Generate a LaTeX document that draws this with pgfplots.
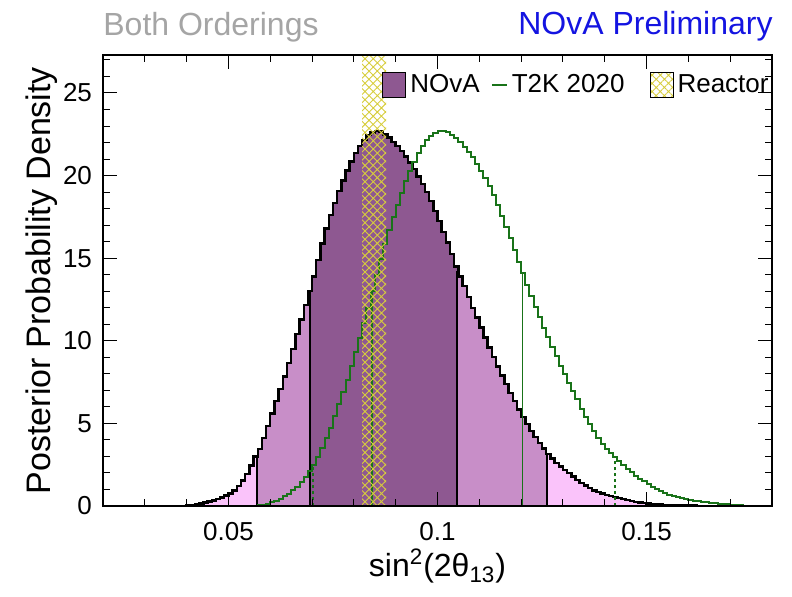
\documentclass[border=0pt]{standalone}
\usepackage{fontspec}
\setmainfont{Liberation Sans}
\usepackage{pgfplots}
\pgfplotsset{compat=1.18}
\usepackage{pgfplotstable}
\usepgfplotslibrary{fillbetween}
\usetikzlibrary{patterns,patterns.meta}

\definecolor{novadark}{RGB}{142,88,145}
\definecolor{novamid}{RGB}{200,142,200}
\definecolor{novalight}{RGB}{250,195,250}
\definecolor{t2kgreen}{RGB}{25,115,25}
\definecolor{reactor}{RGB}{215,205,60}
\definecolor{titlegray}{RGB}{165,165,165}
\definecolor{prelimblue}{RGB}{20,20,225}

\pgfplotstableread{
x y
0.020 0
0.039 0
0.040 0.03
0.041 0.06
0.042 0.10
0.043 0.15
0.044 0.21
0.045 0.27
0.046 0.34
0.047 0.42
0.048 0.52
0.049 0.63
0.050 0.76
0.051 0.95
0.052 1.20
0.053 1.55
0.054 1.95
0.055 2.45
0.056 3.00
0.057 3.45
0.058 4.10
0.059 4.85
0.060 5.60
0.061 6.35
0.062 7.10
0.063 7.85
0.064 8.65
0.065 9.50
0.066 10.40
0.067 11.30
0.068 12.15
0.069 13.00
0.070 13.90
0.071 14.90
0.072 15.90
0.073 16.80
0.074 17.60
0.075 18.35
0.076 19.05
0.077 19.70
0.078 20.30
0.079 20.85
0.080 21.35
0.081 21.80
0.082 22.15
0.083 22.45
0.084 22.62
0.085 22.70
0.086 22.68
0.087 22.50
0.088 22.30
0.089 22.05
0.090 21.80
0.091 21.50
0.092 21.15
0.093 20.80
0.094 20.40
0.095 19.95
0.096 19.50
0.097 19.00
0.098 18.45
0.099 17.85
0.100 17.25
0.101 16.60
0.102 15.95
0.103 15.25
0.104 14.50
0.105 13.90
0.106 13.30
0.107 12.65
0.108 12.00
0.109 11.40
0.110 10.80
0.111 10.20
0.112 9.60
0.113 9.02
0.114 8.45
0.115 7.90
0.116 7.38
0.117 6.85
0.118 6.35
0.119 5.85
0.120 5.38
0.121 4.95
0.122 4.55
0.123 4.18
0.124 3.82
0.125 3.48
0.126 3.15
0.127 2.88
0.128 2.62
0.129 2.40
0.130 2.18
0.131 1.98
0.132 1.78
0.133 1.58
0.134 1.40
0.135 1.24
0.136 1.08
0.137 0.95
0.138 0.84
0.139 0.75
0.140 0.67
0.141 0.60
0.142 0.54
0.143 0.48
0.144 0.42
0.145 0.36
0.146 0.30
0.147 0.26
0.148 0.22
0.149 0.18
0.150 0.15
0.151 0.13
0.152 0.11
0.153 0.09
0.154 0.07
0.155 0.06
0.156 0.05
0.157 0.04
0.158 0.03
0.159 0.03
0.160 0.02
0.161 0.02
0.162 0.01
0.163 0.01
0.164 0.01
0.165 0
0.180 0
}\novadata

\pgfplotstableread{
x y
0.020 0
0.055 0
0.056 0.02
0.057 0.05
0.058 0.09
0.059 0.14
0.060 0.22
0.061 0.32
0.062 0.44
0.063 0.58
0.064 0.75
0.065 0.95
0.066 1.18
0.067 1.45
0.068 1.75
0.069 2.10
0.070 2.50
0.071 2.95
0.072 3.50
0.073 4.10
0.074 4.75
0.075 5.45
0.076 6.15
0.077 6.90
0.078 7.65
0.079 8.45
0.080 9.30
0.081 10.15
0.082 11.05
0.083 12.00
0.084 13.00
0.085 14.00
0.086 14.95
0.087 15.85
0.088 16.70
0.089 17.50
0.090 18.25
0.091 18.97
0.092 19.65
0.093 20.30
0.094 20.85
0.095 21.35
0.096 21.80
0.097 22.15
0.098 22.40
0.099 22.58
0.100 22.68
0.101 22.70
0.102 22.62
0.103 22.48
0.104 22.28
0.105 22.02
0.106 21.75
0.107 21.45
0.108 21.10
0.109 20.72
0.110 20.30
0.111 19.85
0.112 19.35
0.113 18.80
0.114 18.20
0.115 17.55
0.116 16.90
0.117 16.22
0.118 15.52
0.119 14.80
0.120 14.08
0.121 13.38
0.122 12.70
0.123 12.05
0.124 11.42
0.125 10.80
0.126 10.20
0.127 9.62
0.128 9.05
0.129 8.50
0.130 7.97
0.131 7.45
0.132 6.95
0.133 6.45
0.134 5.90
0.135 5.40
0.136 4.95
0.137 4.52
0.138 4.12
0.139 3.78
0.140 3.48
0.141 3.22
0.142 2.98
0.143 2.75
0.144 2.50
0.145 2.26
0.146 2.04
0.147 1.84
0.148 1.66
0.149 1.49
0.150 1.33
0.151 1.18
0.152 1.04
0.153 0.92
0.154 0.80
0.155 0.69
0.156 0.60
0.157 0.52
0.158 0.46
0.159 0.41
0.160 0.37
0.161 0.33
0.162 0.30
0.163 0.27
0.164 0.24
0.165 0.21
0.166 0.18
0.167 0.15
0.168 0.12
0.169 0.10
0.170 0.08
0.171 0.06
0.172 0.04
0.173 0.03
0.174 0.02
0.175 0
0.180 0
}\tkdata

\begin{document}
\begin{tikzpicture}
\begin{axis}[
  width=334.5pt, height=225.5pt, scale only axis,
  xmin=0.02, xmax=0.18, ymin=0, ymax=27.3,
  clip=false, axis on top,
  xtick={0.05,0.1,0.15}, xticklabels={0.05,0.1,0.15},
  minor xtick={0.02,0.03,0.04,0.06,0.07,0.08,0.09,0.11,0.12,0.13,0.14,0.16,0.17,0.18},
  ytick={0,5,10,15,20,25},
  minor ytick={1,2,3,4,6,7,8,9,11,12,13,14,16,17,18,19,21,22,23,24,26,27},
  tick align=inside, major tick length=7pt, minor tick length=3.5pt,
  every tick/.style={black, line width=0.5pt},
  axis line style={line width=0.9pt},
  scaled ticks=false,
  /pgf/number format/assume math mode=true,
  tick label style={font=\fontsize{13}{15}\selectfont},
  xticklabel style={yshift=-4.7pt},
  yticklabel style={xshift=-2pt},
  xlabel={sin\textsuperscript{2}(2θ\textsubscript{13})},
  ylabel={Posterior Probability Density},
  xlabel style={font=\fontsize{16}{19}\selectfont, at={(axis description cs:0.5,-0.1574)}, anchor=base},
  ylabel style={font=\fontsize{17}{20}\selectfont, at={(axis description cs:-0.0792,0.5)}, anchor=base},
  legend columns=3,
  legend style={draw=none, fill=none, at={(axis description cs:0.9985,0.9335)}, anchor=east,
    inner xsep=0pt, inner ysep=0pt, font=\fontsize{13}{15}\selectfont,
    nodes={inner xsep=1pt, inner ysep=1pt},
    /tikz/every odd column/.append style={column sep=1pt},
    /tikz/column 2/.style={column sep=4.5pt},
    /tikz/column 4/.style={column sep=11.5pt}},
]
\addplot[name path=nova, draw=none, const plot, forget plot] table[x=x,y=y] {\novadata};
\addplot[name path=base, draw=none, forget plot] coordinates {(0.02,0) (0.18,0)};
\addplot[fill=novalight, draw=none, forget plot] fill between[of=nova and base];
\addplot[fill=novamid, draw=none, forget plot] fill between[of=nova and base, soft clip={domain=0.0568:0.1262}];
\addplot[fill=novadark, draw=none, forget plot] fill between[of=nova and base, soft clip={domain=0.0695:0.1047}];

\addplot[black, line width=0.8pt, forget plot] coordinates {(0.0568,0) (0.0568,3.0)};
\addplot[black, line width=0.8pt, forget plot] coordinates {(0.0695,0) (0.0695,13.0)};
\addplot[black, line width=0.8pt, forget plot] coordinates {(0.1047,0) (0.1047,14.2)};
\addplot[black, line width=0.8pt, forget plot] coordinates {(0.1262,0) (0.1262,3.15)};

\addplot[const plot, black, line width=1.2pt, forget plot] table[x=x,y=y] {\novadata};

\addplot[t2kgreen, line width=0.8pt, forget plot] coordinates {(0.0843,0) (0.0843,13.0)};
\addplot[t2kgreen, line width=0.8pt, forget plot] coordinates {(0.1203,0) (0.1203,14.08)};
\addplot[t2kgreen, line width=1pt, dash pattern=on 1.5pt off 1.5pt, forget plot] coordinates {(0.0703,0) (0.0703,2.5)};
\addplot[t2kgreen, line width=1pt, dash pattern=on 1.5pt off 1.5pt, forget plot] coordinates {(0.1425,0) (0.1425,2.98)};
\addplot[const plot, t2kgreen, line width=1pt, forget plot] table[x=x,y=y] {\tkdata};

\addplot[draw=none, pattern={Hatch[angle=45,distance=2.9pt,line width=0.45pt]}, pattern color=reactor, forget plot]
  coordinates {(0.0820,27.3) (0.0877,27.3)} \closedcycle;

\addlegendimage{legend image code/.code={\draw[fill=novadark,draw=black,line width=0.9pt] (0pt,-6.25pt) rectangle (11.5pt,6.25pt);}}
\addlegendentry{NOvA}
\addlegendimage{legend image code/.code={\draw[t2kgreen,line width=1pt] (0pt,0pt) -- (7.5pt,0pt);}}
\addlegendentry{T2K 2020}
\addlegendimage{legend image code/.code={\draw[draw=black,line width=0.5pt,pattern={Hatch[angle=45,distance=2.9pt,line width=0.45pt]},pattern color=reactor] (0pt,-6.25pt) rectangle (11.5pt,6.25pt);}}
\addlegendentry{Reactor}
\end{axis}
\node[anchor=base west, inner sep=0pt, text=titlegray, font=\fontsize{16}{19}\selectfont] at ([xshift=0pt,yshift=10pt]current axis.north west) {Both Orderings};
\node[anchor=base east, inner sep=0pt, text=prelimblue, font=\fontsize{16}{19}\selectfont] at ([xshift=0.5pt,yshift=10.5pt]current axis.north east) {NOvA Preliminary};
\path ([xshift=-51.5pt,yshift=-45pt]current axis.south west) rectangle ([xshift=10pt,yshift=27.5pt]current axis.north east);
\end{tikzpicture}
\end{document}
